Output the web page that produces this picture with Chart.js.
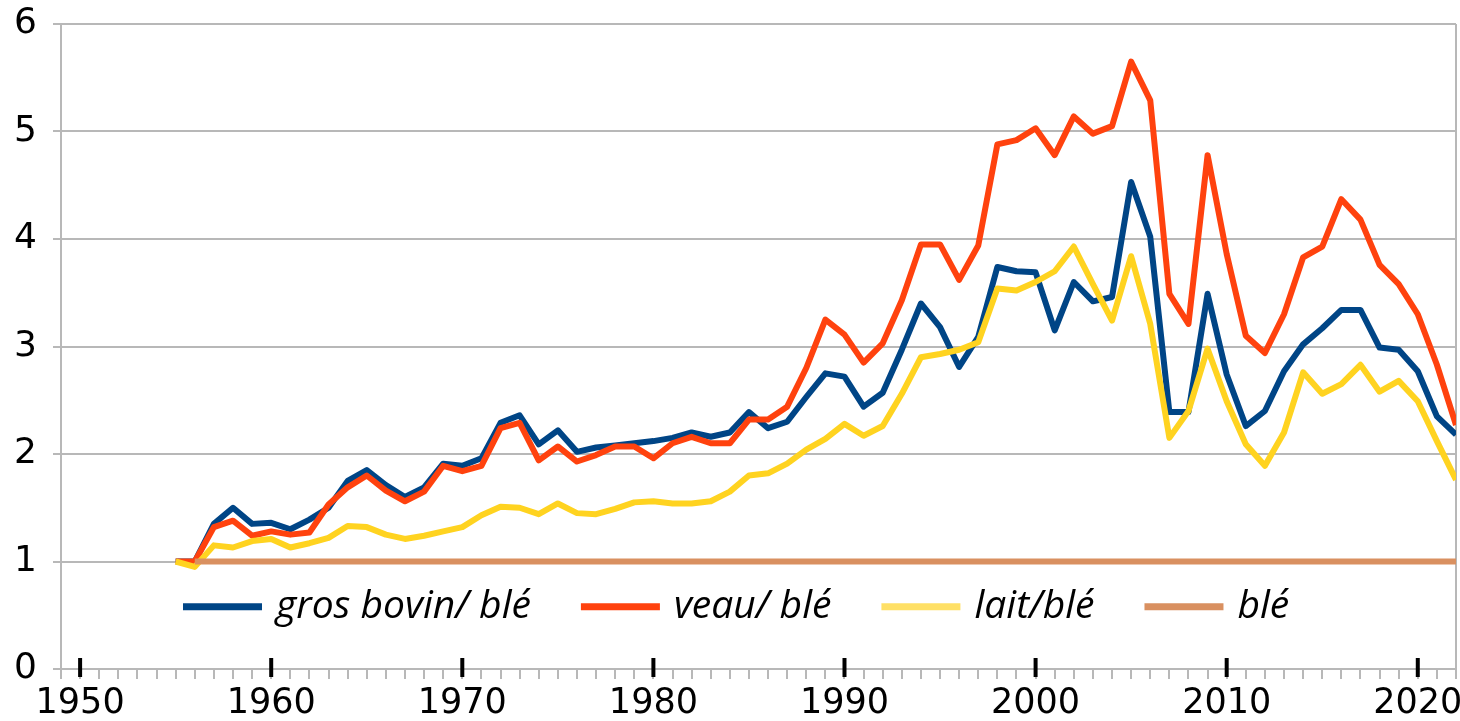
<!DOCTYPE html>
<html>
<head>
<meta charset="utf-8">
<script src="https://cdn.jsdelivr.net/npm/chart.js@4/dist/chart.umd.min.js"></script>
<style>
  html, body { margin: 0; padding: 0; background: #fff; }
</style>
</head>
<body>
<canvas id="chart" width="1460" height="721"></canvas>
<script>
// years 1955 -> 2022
const years = [1955, 1956, 1957, 1958, 1959, 1960, 1961, 1962, 1963, 1964,
  1965, 1966, 1967, 1968, 1969, 1970, 1971, 1972, 1973, 1974,
  1975, 1976, 1977, 1978, 1979, 1980, 1981, 1982, 1983, 1984,
  1985, 1986, 1987, 1988, 1989, 1990, 1991, 1992, 1993, 1994,
  1995, 1996, 1997, 1998, 1999, 2000, 2001, 2002, 2003, 2004,
  2005, 2006, 2007, 2008, 2009, 2010, 2011, 2012, 2013, 2014,
  2015, 2016, 2017, 2018, 2019, 2020, 2021, 2022];

const grosBovin = [1.00, 1.00, 1.35, 1.50, 1.35, 1.36, 1.30, 1.39, 1.50, 1.75,
  1.85, 1.71, 1.60, 1.69, 1.91, 1.89, 1.96, 2.29, 2.36, 2.09,
  2.22, 2.02, 2.06, 2.08, 2.10, 2.12, 2.15, 2.20, 2.16, 2.20,
  2.39, 2.24, 2.30, 2.53, 2.75, 2.72, 2.44, 2.57, 2.97, 3.40,
  3.18, 2.81, 3.09, 3.74, 3.70, 3.69, 3.15, 3.60, 3.42, 3.46,
  4.53, 4.02, 2.39, 2.39, 3.49, 2.74, 2.26, 2.40, 2.77, 3.02,
  3.17, 3.34, 3.34, 2.99, 2.97, 2.77, 2.35, 2.18];

const veau = [1.00, 1.00, 1.32, 1.38, 1.24, 1.28, 1.25, 1.27, 1.53, 1.69,
  1.80, 1.66, 1.56, 1.65, 1.89, 1.84, 1.89, 2.24, 2.29, 1.94,
  2.07, 1.93, 1.99, 2.07, 2.07, 1.96, 2.10, 2.16, 2.10, 2.10,
  2.32, 2.32, 2.44, 2.80, 3.25, 3.11, 2.85, 3.03, 3.43, 3.95,
  3.95, 3.62, 3.94, 4.88, 4.92, 5.03, 4.78, 5.14, 4.98, 5.05,
  5.65, 5.29, 3.49, 3.21, 4.78, 3.86, 3.10, 2.94, 3.30, 3.83,
  3.93, 4.37, 4.18, 3.76, 3.58, 3.30, 2.83, 2.27];

const lait = [1.00, 0.95, 1.15, 1.13, 1.19, 1.21, 1.13, 1.17, 1.22, 1.33,
  1.32, 1.25, 1.21, 1.24, 1.28, 1.32, 1.43, 1.51, 1.50, 1.44,
  1.54, 1.45, 1.44, 1.49, 1.55, 1.56, 1.54, 1.54, 1.56, 1.65,
  1.80, 1.82, 1.91, 2.04, 2.14, 2.28, 2.17, 2.26, 2.56, 2.90,
  2.93, 2.97, 3.04, 3.54, 3.52, 3.60, 3.70, 3.93, 3.58, 3.24,
  3.84, 3.21, 2.15, 2.40, 2.98, 2.49, 2.09, 1.89, 2.20, 2.76,
  2.56, 2.65, 2.83, 2.58, 2.68, 2.49, 2.12, 1.76];

const ble = [null, 1, 1, 1, 1, 1, 1, 1, 1, 1,
  1, 1, 1, 1, 1, 1, 1, 1, 1, 1,
  1, 1, 1, 1, 1, 1, 1, 1, 1, 1,
  1, 1, 1, 1, 1, 1, 1, 1, 1, 1,
  1, 1, 1, 1, 1, 1, 1, 1, 1, 1,
  1, 1, 1, 1, 1, 1, 1, 1, 1, 1,
  1, 1, 1, 1, 1, 1, 1, 1];

const seriesLabels = ['gros bovin/ blé', 'veau/ blé', 'lait/blé', 'blé'];
const seriesColors = ['#004586', '#ff420e', '#ffd320', '#d99060'];
const legendColors = ['#004586', '#ff420e', '#ffe066', '#d99060'];
const yTicks = [0, 1, 2, 3, 4, 5, 6];
const decadeTicks = [1950, 1960, 1970, 1980, 1990, 2000, 2010, 2020];

const gridGrey = '#b8b8b8';

function points(values) {
  return years.map((yr, i) => ({ x: yr, y: values[i] }));
}

// legend drawn inside the plot, like the original
const insideLegend = {
  id: 'insideLegend',
  afterDatasetsDraw(chart) {
    const { ctx, chartArea } = chart;
    const y = chart.scales.y.getPixelForValue(0.58);
    let x = chartArea.left + 122;
    ctx.save();
    ctx.font = 'italic 39px "Open Sans"';
    ctx.textBaseline = 'middle';
    chart.data.datasets.forEach((ds, i) => {
      ctx.strokeStyle = legendColors[i];
      ctx.lineWidth = 7;
      ctx.beginPath();
      ctx.moveTo(x, y);
      ctx.lineTo(x + 79, y);
      ctx.stroke();
      x += 79 + 14;
      ctx.fillStyle = '#000';
      ctx.fillText(ds.label, x, y);
      x += ctx.measureText(ds.label).width + 50;
    });
    ctx.restore();
  }
};

// thick black marks at each decade, crossing the x axis
const decadeMarks = {
  id: 'decadeMarks',
  afterDraw(chart) {
    const { ctx, chartArea } = chart;
    const xs = chart.scales.x;
    ctx.save();
    ctx.strokeStyle = '#000';
    ctx.lineWidth = 4;
    decadeTicks.forEach(v => {
      const px = xs.getPixelForValue(v);
      ctx.beginPath();
      ctx.moveTo(px, chartArea.bottom - 11);
      ctx.lineTo(px, chartArea.bottom + 8);
      ctx.stroke();
    });
    ctx.restore();
  }
};

const datasets = seriesLabels.map((label, i) => ({
  label: label,
  data: points([grosBovin, veau, lait, ble][i]),
  borderColor: seriesColors[i],
  backgroundColor: seriesColors[i],
  borderWidth: 6,
  pointRadius: 0,
  tension: 0,
  fill: false,
  spanGaps: false,
  borderJoinStyle: 'round',
  order: 3 - i
}));

new Chart(document.getElementById('chart'), {
  type: 'line',
  data: { datasets: datasets },
  options: {
    responsive: false,
    animation: false,
    layout: { padding: { top: 0, right: 4, left: 0, bottom: 0 } },
    plugins: {
      legend: { display: false },
      tooltip: { enabled: false }
    },
    scales: {
      x: {
        type: 'linear',
        min: 1949,
        max: 2022,
        afterFit: s => { s.height = 52; s.paddingLeft = 0; s.paddingRight = 0; },
        ticks: {
          stepSize: 1,
          maxTicksLimit: 200,
          autoSkip: false,
          maxRotation: 0,
          padding: 4,
          color: '#000',
          font: { family: 'DejaVu Sans', size: 35 },
          callback: v => decadeTicks.includes(v) ? String(v) : ''
        },
        grid: {
          color: ctx => (ctx.tick && ctx.tick.value === 2022) ? gridGrey : 'rgba(0,0,0,0)',
          tickColor: gridGrey,
          tickLength: 10,
          lineWidth: 2
        },
        border: { color: gridGrey, width: 2 }
      },
      y: {
        min: 0,
        max: 6,
        afterFit: s => { s.width = 61; s.paddingTop = 24; s.paddingBottom = 0; },
        afterBuildTicks: s => { s.ticks = yTicks.map(v => ({ value: v })); },
        ticks: {
          padding: 16,
          color: '#000',
          font: { family: 'DejaVu Sans', size: 36 }
        },
        grid: {
          color: gridGrey,
          tickColor: gridGrey,
          tickLength: 8,
          lineWidth: 2
        },
        border: { color: gridGrey, width: 2 }
      }
    }
  },
  plugins: [insideLegend, decadeMarks]
});
</script>
</body>
</html>
